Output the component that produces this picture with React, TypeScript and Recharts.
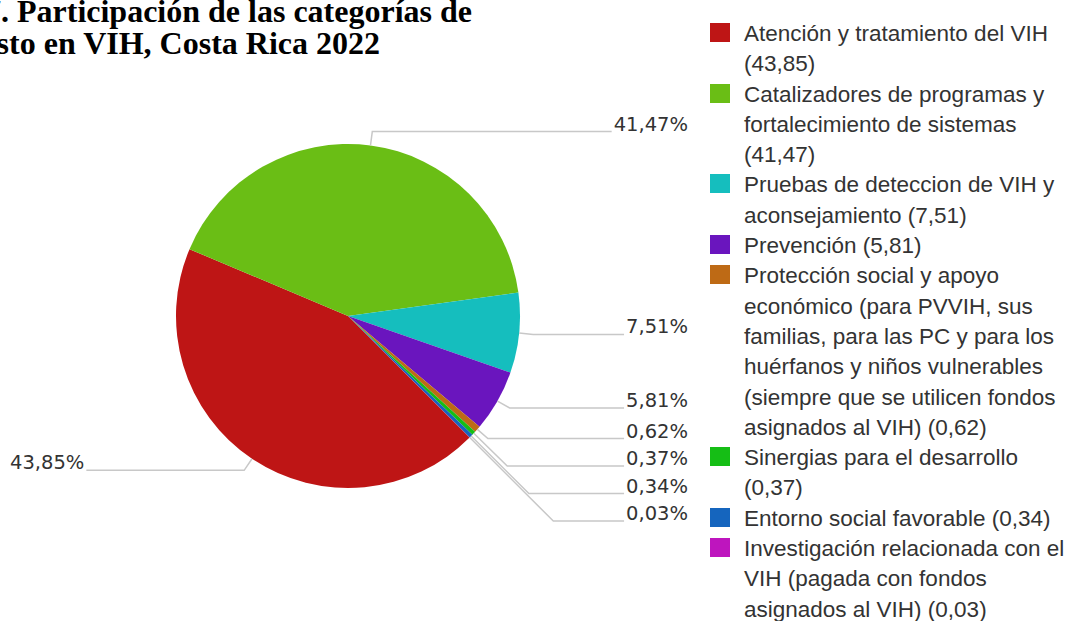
import React from 'react';
import { PieChart, Pie, Cell, Legend } from 'recharts';

const categories = [
  'Atención y tratamiento del VIH',
  'Catalizadores de programas y fortalecimiento de sistemas',
  'Pruebas de deteccion de VIH y aconsejamiento',
  'Prevención',
  'Protección social y apoyo económico (para PVVIH, sus familias, para las PC y para los huérfanos y niños vulnerables (siempre que se utilicen fondos asignados al VIH)',
  'Sinergias para el desarrollo',
  'Entorno social favorable',
  'Investigación relacionada con el VIH (pagada con fondos asignados al VIH)',
];
const values = [43.85, 41.47, 7.51, 5.81, 0.62, 0.37, 0.34, 0.03];
const colors = ['#BE1515', '#6ABE15', '#15BEBE', '#6A15BE', '#BE6A15', '#15BE15', '#1565BE', '#BE15BE'];
const titleLines = ['7. Participación de las categorías de', 'gasto en VIH, Costa Rica 2022'];

const data = categories.map((name, i) => ({ name, value: values[i] }));

const CX = 348;
const CY = 316;
const R = 172;
const START = -45;
const LABEL_FONT = '19.5px "DejaVu Sans"';
const LABEL_GAP = 27.5;
const RIGHT_X = 688;
const LEFT_X = 10;

const fmt = (v: number) => v.toFixed(2).replace('.', ',');

let canvas: HTMLCanvasElement | null = null;
function textWidth(t: string) {
  if (!canvas) canvas = document.createElement('canvas');
  const ctx = canvas.getContext('2d');
  if (!ctx) return t.length * 11;
  ctx.font = LABEL_FONT;
  return ctx.measureText(t).width;
}

type LayoutItem = { right: boolean; natX: number; natY: number; y: number; bx: number };

function computeLayout(): LayoutItem[] {
  const total = values.reduce((a, b) => a + b, 0);
  let ang = START;
  const items: LayoutItem[] = values.map((v) => {
    const sweep = (-360 * v) / total;
    const mid = ang + sweep / 2;
    ang += sweep;
    const rad = (mid * Math.PI) / 180;
    const cos = Math.cos(rad);
    const sin = Math.sin(rad);
    const RR = R + 14;
    const natX = CX + RR * cos;
    const natY = CY - RR * sin;
    return { right: cos >= 0, natX, natY, y: natY, bx: natX };
  });
  [true, false].forEach((side) => {
    const idx = items.map((it, i) => i).filter((i) => items[i].right === side);
    idx.sort((a, b) => items[a].natY - items[b].natY);
    let prev = -Infinity;
    idx.forEach((i) => {
      const it = items[i];
      it.y = Math.max(it.natY, prev + LABEL_GAP);
      prev = it.y;
      const d = it.y - it.natY;
      it.bx = side ? it.natX + d : it.natX - d;
    });
  });
  return items;
}

const layout = computeLayout();

const renderLabel = (props: any) => {
  const { cx, cy, midAngle, outerRadius, index, percent } = props;
  const L = layout[index];
  const rad = (-midAngle * Math.PI) / 180;
  const sx = cx + outerRadius * Math.cos(rad);
  const sy = cy + outerRadius * Math.sin(rad);
  const text = fmt(percent * 100) + '%';
  const w = textWidth(text);
  const ex = L.right ? RIGHT_X - w - 2 : LEFT_X + w + 2;
  const tx = L.right ? RIGHT_X : LEFT_X;
  return (
    <g key={`lbl-${index}`}>
      <polyline
        points={`${sx},${sy} ${L.bx},${L.y} ${ex},${L.y}`}
        fill="none"
        stroke="#c8c8c8"
        strokeWidth={1.5}
      />
      <text
        x={tx}
        y={L.y - 1}
        textAnchor={L.right ? 'end' : 'start'}
        fontFamily="DejaVu Sans"
        fontSize={19.5}
        fill="#333"
      >
        {text}
      </text>
    </g>
  );
};

const LegendContent = () => (
  <div style={{ fontFamily: '"Liberation Sans", Arial, sans-serif', fontSize: 22.5, lineHeight: '30.3px', color: '#333' }}>
    {categories.map((c, i) => (
      <div key={c} style={{ display: 'flex', alignItems: 'flex-start' }}>
        <div style={{ width: 20, height: 19, marginTop: 4, marginRight: 14, background: colors[i], flexShrink: 0 }} />
        <div style={{ width: 324 }}>{`${c} (${fmt(values[i])})`}</div>
      </div>
    ))}
  </div>
);

export default function App() {
  return (
    <div style={{ position: 'absolute', left: 0, top: 0, width: 1068, height: 621, overflow: 'hidden', background: '#fff' }}>
      {titleLines.map((t, i) => (
        <div
          key={t}
          style={{
            position: 'absolute',
            right: i === 0 ? 1068 - 472 : 1068 - 380,
            top: -5.4 + i * 32.6,
            whiteSpace: 'nowrap',
            fontFamily: '"Liberation Serif", "Times New Roman", serif',
            fontWeight: 'bold',
            fontSize: 32,
            lineHeight: '32.6px',
            color: '#000',
          }}
        >
          {t}
        </div>
      ))}
      <div style={{ position: 'absolute', left: 0, top: 0 }}>
        <PieChart width={1068} height={621} margin={{ top: 0, right: 0, bottom: 0, left: 0 }}>
          <Pie
            data={data}
            dataKey="value"
            nameKey="name"
            cx={CX}
            cy={CY}
            outerRadius={R}
            startAngle={START}
            endAngle={START - 360}
            stroke="none"
            isAnimationActive={false}
            label={renderLabel}
            labelLine={false}
          >
            {data.map((d, i) => (
              <Cell key={d.name} fill={colors[i]} stroke="none" />
            ))}
          </Pie>
          <Legend
            content={() => <LegendContent />}
            wrapperStyle={{ position: 'absolute', left: 710, top: 19, width: 358, height: 602 }}
          />
        </PieChart>
      </div>
    </div>
  );
}
